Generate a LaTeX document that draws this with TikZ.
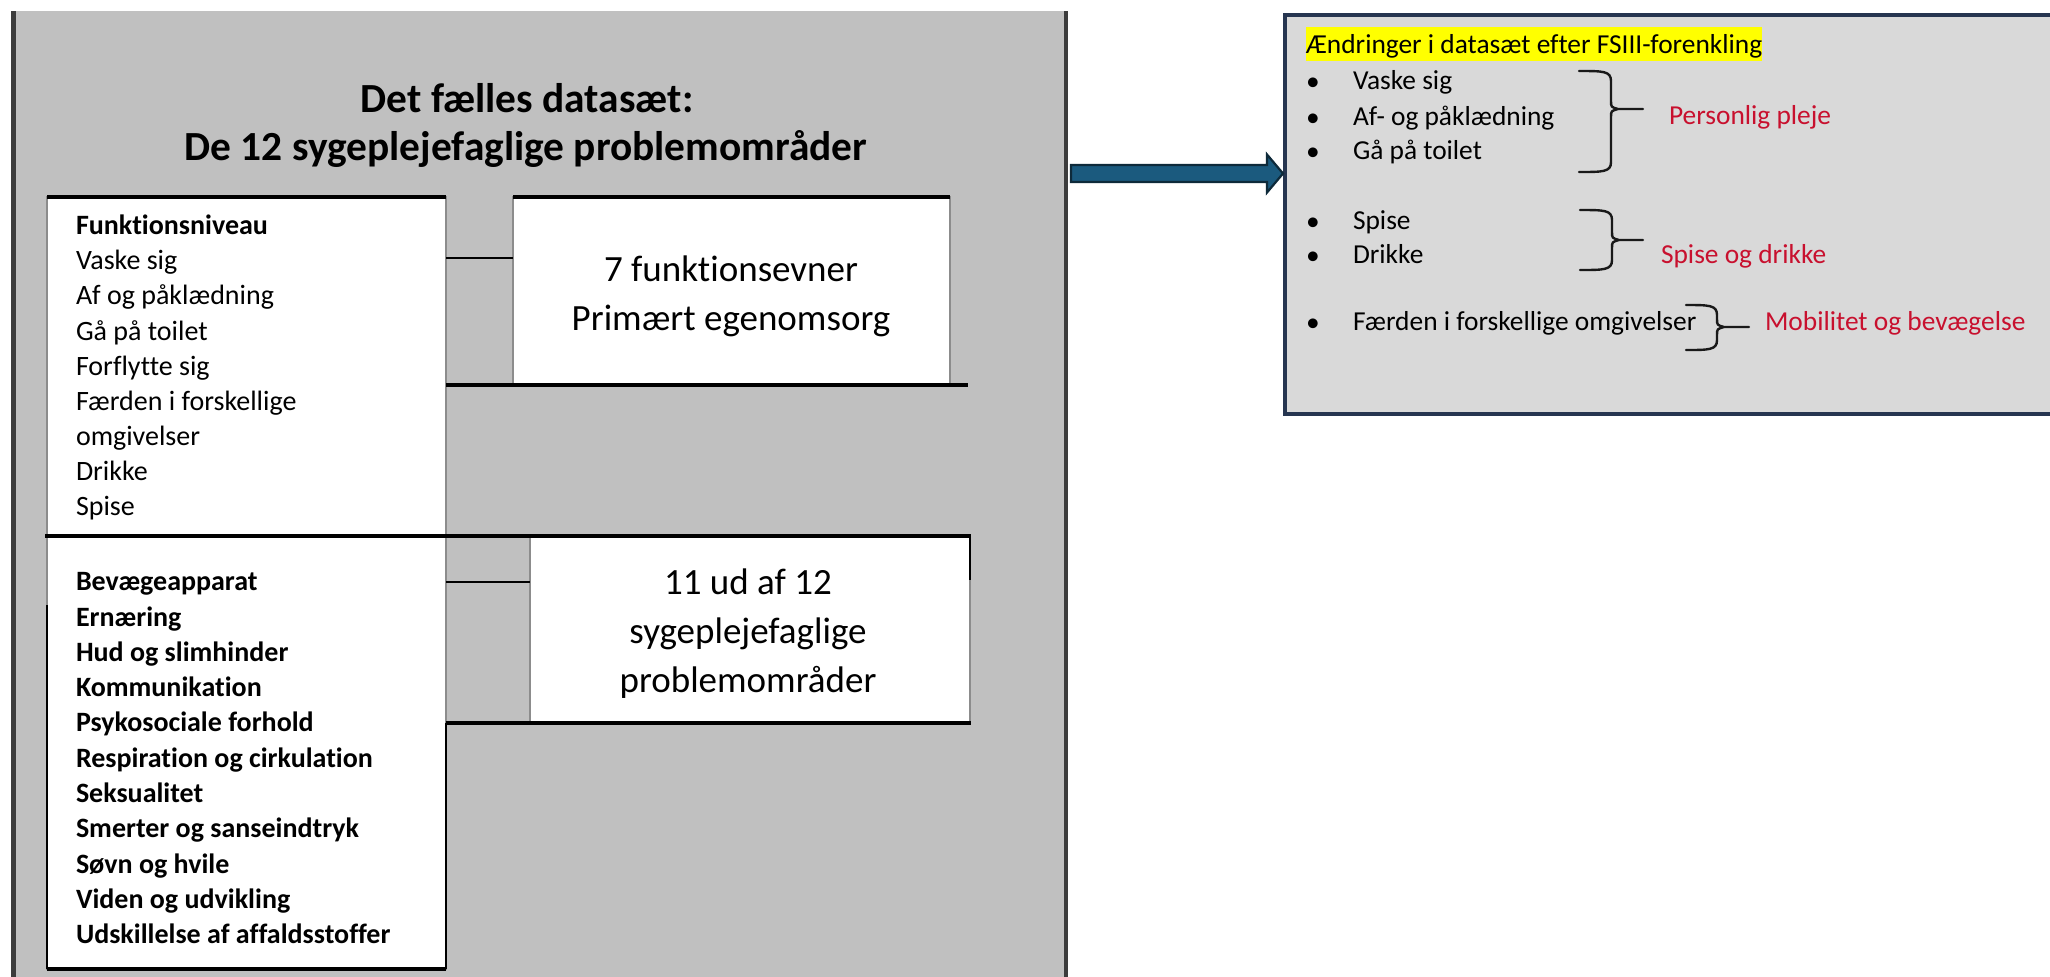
\documentclass[tikz,border=0pt]{standalone}
\usepackage{fontspec}
\setmainfont{Carlito}[Ligatures={NoCommon}]
\definecolor{panelgray}{HTML}{C0C0C0}
\definecolor{sidegray}{HTML}{8C8C8C}
\definecolor{panelline}{HTML}{3C3C3C}
\definecolor{rpfill}{HTML}{D9D9D9}
\definecolor{rpline}{HTML}{263550}
\definecolor{arrfill}{HTML}{1B5A7E}
\definecolor{arrline}{HTML}{0E2A3A}
\definecolor{hlyellow}{HTML}{FFFF00}
\definecolor{lblred}{RGB}{200,16,46}
\begin{document}
\begin{tikzpicture}[x=0.5pt,y=-0.5pt,
  every node/.style={inner sep=0pt, outer sep=0pt},
  box/.style={fill=white, draw=sidegray, line width=1.2pt},
  hline/.style={black, line width=1.6pt},
  conn/.style={black, line width=1.1pt},
  listtxt/.style={anchor=mid west, font=\fontsize{14}{17}\selectfont},
  listbold/.style={anchor=mid west, font=\bfseries\fontsize{14}{17}\selectfont},
  bigtxt/.style={align=center, font=\fontsize{18.5}{24.5}\selectfont},
  titletxt/.style={font=\bfseries\fontsize{20.7}{25}\selectfont},
  rtxt/.style={anchor=mid west, font=\fontsize{13.7}{17}\selectfont},
  rbullet/.style={font=\fontsize{13.7}{17}\selectfont},
  redlbl/.style={anchor=mid west, text=lblred, font=\fontsize{13.7}{17}\selectfont},
  bracestyle/.style={draw=black!90, line width=1.2pt, line cap=round}
]
\useasboundingbox (0,0) rectangle (2050,976);

% ---------- left panel ----------
\node[fill=panelgray, minimum width=526.5pt, minimum height=484.5pt] (lp) at (539.5,495.5) {};
\draw[panelline, line width=2.5pt] (lp.north west) -- (lp.south west);
\draw[panelline, line width=2pt] (lp.north east) -- (lp.south east);

\node[titletxt] (title1) at (527,98) {Det fælles datasæt:};
\node[titletxt] (title2) at (526,149) {De 12 sygeplejefaglige problemområder};

% boxes
\node[box, minimum width=199.5pt, minimum height=169.5pt] (boxA) at (246.5,366.5) {};
\node[box, minimum width=218.5pt, minimum height=94pt] (boxB) at (731.5,291) {};
\node[box, minimum width=199.5pt, minimum height=216.5pt] (boxC) at (246.5,752.5) {};
\node[box, minimum width=220pt, minimum height=93.5pt] (boxD) at (750,629.5) {};

% black rules
\draw[hline] (boxA.north west) -- (boxA.north east);
\draw[hline] (boxB.north west) -- (boxB.north east);
\draw[hline] (boxA.east |- boxB.south) -- ([xshift=9pt]boxB.south east);
\draw[hline] ([xshift=-1pt]boxC.north west) -- ([xshift=0.5pt]boxD.north east);
\draw[hline] (boxC.east |- boxD.south) -- ([xshift=0.5pt]boxD.south east);
\draw[hline] (boxC.south west) -- (boxC.south east);
\draw[black, line width=1.2pt] ([yshift=-34.5pt]boxC.north west) -- (boxC.south west);
\draw[black, line width=1.2pt] (boxC.east |- boxD.south) -- (boxC.south east);
\draw[black, line width=1.2pt] (boxD.north east) -- ([yshift=-22pt]boxD.north east);

% connectors
\draw[conn] ([yshift=-30.5pt]boxA.north east) -- ([yshift=-30.5pt]boxB.north west);
\draw[conn] ([yshift=-23pt]boxC.north east) -- ([yshift=-23pt]boxD.north west);

% box texts
\node[listbold] (fa0) at (76,230) {Funktionsniveau};
\foreach \t [count=\i] in {Vaske sig, Af og påklædning, Gå på toilet, Forflytte sig, Færden i forskellige, omgivelser, Drikke, Spise}
  \node[listtxt] (fa\i) at (76,{230+35.1*\i}) {\t};

\foreach \t [count=\i from 0] in {Bevægeapparat, Ernæring, Hud og slimhinder, Kommunikation, Psykosociale forhold, Respiration og cirkulation, Seksualitet, Smerter og sanseindtryk, Søvn og hvile, Viden og udvikling, Udskillelse af affaldsstoffer}
  \node[listbold] (fc\i) at (76,{586+35.3*\i}) {\t};

\node[bigtxt] (txtB) at (731,296) {7 funktionsevner\\Primært egenomsorg};
\node[bigtxt] (txtD) at (748,634) {11 ud af 12\\sygeplejefaglige\\problemområder};

% ---------- right panel ----------
\node[fill=rpfill, draw=rpline, line width=2pt, minimum width=388.5pt, minimum height=199.5pt] (rp) at (1673.5,214.5) {};

\node[fill=hlyellow, anchor=west, text height=13pt, text depth=4pt, font=\fontsize{13.7}{17}\selectfont] (head) at (1306,44) {Ændringer i datasæt efter FSIII-forenkling};

\foreach \t/\y [count=\i] in {Vaske sig/85, Af- og påklædning/121, Gå på toilet/155, Spise/225, Drikke/259, Færden i forskellige omgivelser/326}{
  \node[rbullet] (rb\i) at (1313,{\y-1}) {•};
  \node[rtxt] (rt\i) at (1353,\y) {\t};
}

% braces
\newcommand{\mybrace}[6]{%
  \draw[bracestyle] (#1,#3) .. controls (#2-8,#3) and (#2,#3) .. (#2,#3+10) -- (#2,#4-8)
     .. controls (#2,#4-2) .. (#2+7,#4) -- (#6,#4)
     (#2+7,#4) .. controls (#2,#4+2) .. (#2,#4+8) -- (#2,#5-10)
     .. controls (#2,#5) and (#2-8,#5) .. (#1,#5);}
\mybrace{1579}{1611}{71}{109}{172}{1643}
\mybrace{1580}{1612}{210}{240}{270}{1643}
\mybrace{1686}{1717}{305}{327}{350}{1749}

\node[redlbl] (l1) at (1669,120) {Personlig pleje};
\node[redlbl] (l2) at (1661,259) {Spise og drikke};
\node[redlbl] (l3) at (1765,326) {Mobilitet og bevægelse};

% ---------- arrow ----------
\coordinate (arrS) at (1071,173.5);
\coordinate (arrE) at (1283,173.5);
\draw[fill=arrfill, draw=arrline, line width=1.1pt, line join=miter]
  ([yshift=4.25pt]arrS) -- ([xshift=-8pt,yshift=4.25pt]arrE) -- ([xshift=-8pt,yshift=9.5pt]arrE)
  -- (arrE) -- ([xshift=-8pt,yshift=-9.5pt]arrE) -- ([xshift=-8pt,yshift=-4.25pt]arrE)
  -- ([yshift=-4.25pt]arrS) -- cycle;
\end{tikzpicture}
\end{document}
